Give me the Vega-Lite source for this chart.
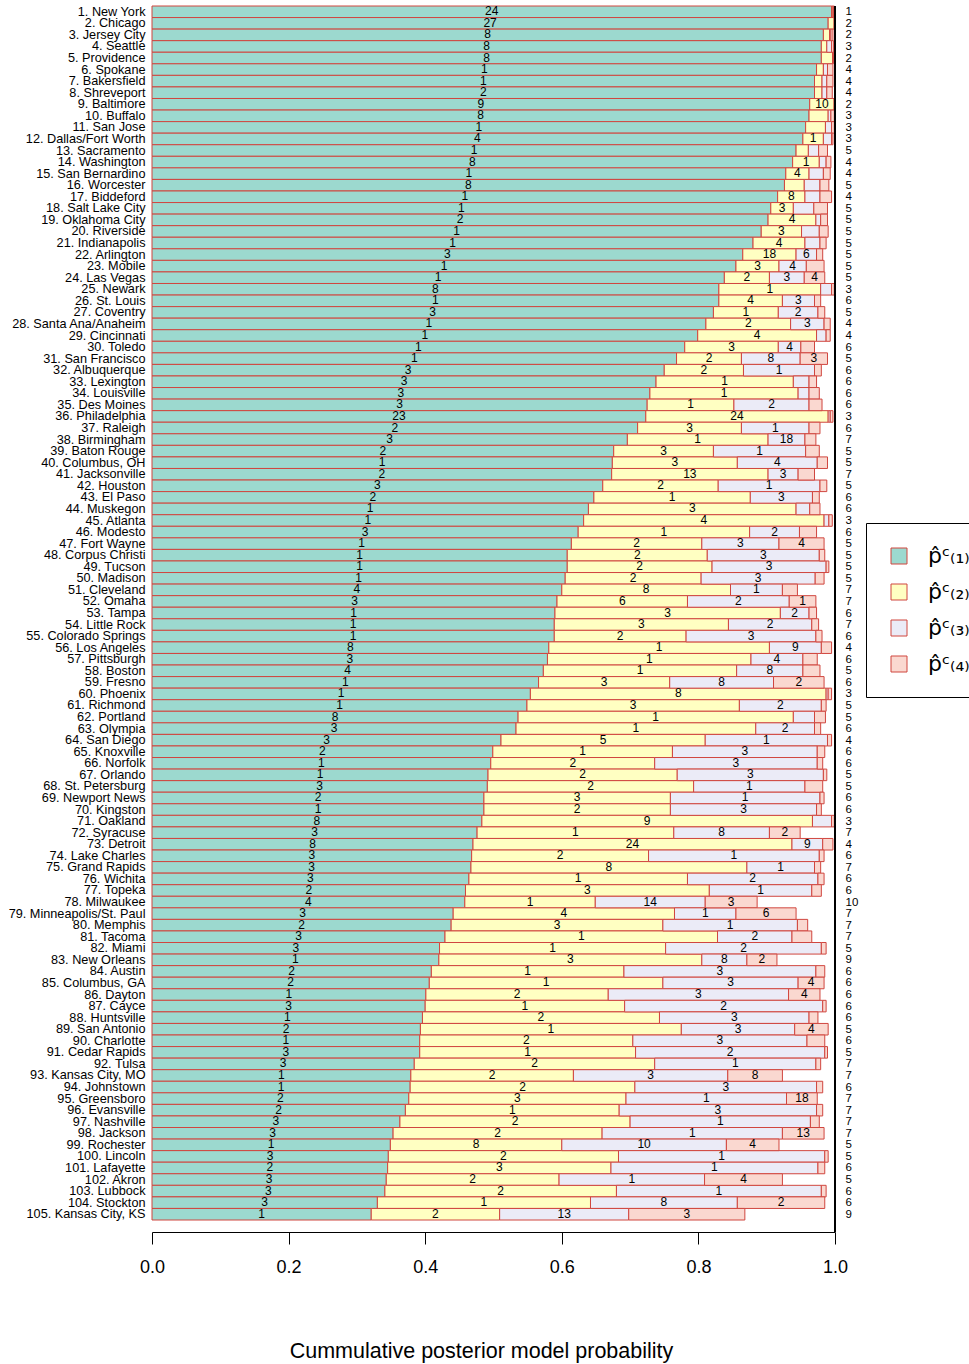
{
  "$schema": "https://vega.github.io/schema/vega-lite/v6.json",
  "width": 683,
  "height": 1226,
  "autosize": {"type": "none"},
  "padding": {"left": 152, "top": 6, "right": 134, "bottom": 132},
  "background": "white",
  "config": {
    "view": {"stroke": null},
    "font": "Liberation Sans",
    "axisX": {
      "grid": false,
      "tickSize": 12,
      "tickColor": "black",
      "domainColor": "black",
      "labelColor": "black",
      "labelFontSize": 18,
      "labelPadding": 14,
      "labelFlush": false,
      "titleColor": "black",
      "titleFontSize": 21.5,
      "titleFontWeight": "normal",
      "titlePadding": 64,
      "titleX": 329
    }
  },
  "data": {
    "values": [
      {"k": "1. New York|1", "a": 0.995, "b": 0.997, "c": 0.998, "d": 0.999, "m1": 24},
      {"k": "2. Chicago|2", "a": 0.990, "b": 0.999, "c": 0.999, "d": 0.999, "m1": 27},
      {"k": "3. Jersey City|2", "a": 0.983, "b": 0.992, "c": 0.994, "d": 0.997, "m1": 8},
      {"k": "4. Seattle|3", "a": 0.980, "b": 0.988, "c": 0.995, "d": 0.998, "m1": 8},
      {"k": "5. Providence|2", "a": 0.980, "b": 0.997, "c": 0.997, "d": 0.997, "m1": 8},
      {"k": "6. Spokane|4", "a": 0.973, "b": 0.983, "c": 0.989, "d": 0.997, "m1": 1},
      {"k": "7. Bakersfield|4", "a": 0.970, "b": 0.981, "c": 0.988, "d": 0.997, "m1": 1},
      {"k": "8. Shreveport|4", "a": 0.970, "b": 0.981, "c": 0.988, "d": 0.996, "m1": 2},
      {"k": "9. Baltimore|2", "a": 0.963, "b": 0.999, "c": 0.999, "d": 0.999, "m1": 9, "m2": 10},
      {"k": "10. Buffalo|3", "a": 0.962, "b": 0.990, "c": 0.994, "d": 0.999, "m1": 8},
      {"k": "11. San Jose|3", "a": 0.957, "b": 0.986, "c": 0.995, "d": 0.999, "m1": 1},
      {"k": "12. Dallas/Fort Worth|3", "a": 0.953, "b": 0.983, "c": 0.995, "d": 0.997, "m1": 4, "m2": 1},
      {"k": "13. Sacramento|5", "a": 0.943, "b": 0.961, "c": 0.976, "d": 0.989, "m1": 1},
      {"k": "14. Washington|4", "a": 0.938, "b": 0.977, "c": 0.987, "d": 0.994, "m1": 8, "m2": 1},
      {"k": "15. San Bernardino|4", "a": 0.928, "b": 0.962, "c": 0.983, "d": 0.993, "m1": 1, "m2": 4},
      {"k": "16. Worcester|5", "a": 0.926, "b": 0.955, "c": 0.978, "d": 0.991, "m1": 8},
      {"k": "17. Biddeford|4", "a": 0.916, "b": 0.956, "c": 0.978, "d": 0.995, "m1": 1, "m2": 8},
      {"k": "18. Salt Lake City|5", "a": 0.906, "b": 0.939, "c": 0.969, "d": 0.989, "m1": 1, "m2": 3},
      {"k": "19. Oklahoma City|5", "a": 0.902, "b": 0.972, "c": 0.979, "d": 0.989, "m1": 2, "m2": 4},
      {"k": "20. Riverside|5", "a": 0.892, "b": 0.951, "c": 0.977, "d": 0.990, "m1": 1, "m2": 3},
      {"k": "21. Indianapolis|5", "a": 0.880, "b": 0.956, "c": 0.978, "d": 0.987, "m1": 1, "m2": 4},
      {"k": "22. Arlington|5", "a": 0.865, "b": 0.943, "c": 0.973, "d": 0.982, "m1": 3, "m2": 18, "m3": 6},
      {"k": "23. Mobile|5", "a": 0.855, "b": 0.918, "c": 0.958, "d": 0.984, "m1": 1, "m2": 3, "m3": 4},
      {"k": "24. Las Vegas|5", "a": 0.838, "b": 0.904, "c": 0.955, "d": 0.985, "m1": 1, "m2": 2, "m3": 3, "m4": 4},
      {"k": "25. Newark|3", "a": 0.830, "b": 0.979, "c": 0.995, "d": 0.999, "m1": 8, "m2": 1},
      {"k": "26. St. Louis|6", "a": 0.830, "b": 0.923, "c": 0.970, "d": 0.979, "m1": 1, "m2": 4, "m3": 3},
      {"k": "27. Coventry|5", "a": 0.822, "b": 0.917, "c": 0.975, "d": 0.985, "m1": 3, "m2": 1, "m3": 2},
      {"k": "28. Santa Ana/Anaheim|4", "a": 0.811, "b": 0.935, "c": 0.984, "d": 0.993, "m1": 1, "m2": 2, "m3": 3},
      {"k": "29. Cincinnati|4", "a": 0.799, "b": 0.973, "c": 0.987, "d": 0.993, "m1": 1, "m2": 4},
      {"k": "30. Toledo|6", "a": 0.780, "b": 0.917, "c": 0.950, "d": 0.970, "m1": 1, "m2": 3, "m3": 4},
      {"k": "31. San Francisco|5", "a": 0.768, "b": 0.863, "c": 0.949, "d": 0.989, "m1": 1, "m2": 2, "m3": 8, "m4": 3},
      {"k": "32. Albuquerque|6", "a": 0.750, "b": 0.866, "c": 0.970, "d": 0.980, "m1": 3, "m2": 2, "m3": 1},
      {"k": "33. Lexington|6", "a": 0.738, "b": 0.939, "c": 0.962, "d": 0.973, "m1": 3, "m2": 1},
      {"k": "34. Louisville|6", "a": 0.729, "b": 0.946, "c": 0.962, "d": 0.977, "m1": 3, "m2": 1},
      {"k": "35. Des Moines|6", "a": 0.725, "b": 0.852, "c": 0.962, "d": 0.981, "m1": 3, "m2": 1, "m3": 2},
      {"k": "36. Philadelphia|3", "a": 0.723, "b": 0.990, "c": 0.993, "d": 0.997, "m1": 23, "m2": 24},
      {"k": "37. Raleigh|6", "a": 0.711, "b": 0.863, "c": 0.962, "d": 0.978, "m1": 2, "m2": 3, "m3": 1},
      {"k": "38. Birmingham|7", "a": 0.696, "b": 0.902, "c": 0.956, "d": 0.972, "m1": 3, "m2": 1, "m3": 18},
      {"k": "39. Baton Rouge|5", "a": 0.676, "b": 0.822, "c": 0.957, "d": 0.977, "m1": 2, "m2": 3, "m3": 1},
      {"k": "40. Columbus, OH|5", "a": 0.674, "b": 0.857, "c": 0.974, "d": 0.989, "m1": 1, "m2": 3, "m3": 4},
      {"k": "41. Jacksonville|7", "a": 0.673, "b": 0.902, "c": 0.946, "d": 0.970, "m1": 2, "m2": 13, "m3": 3},
      {"k": "42. Houston|5", "a": 0.660, "b": 0.829, "c": 0.978, "d": 0.988, "m1": 3, "m2": 2, "m3": 1},
      {"k": "43. El Paso|6", "a": 0.647, "b": 0.876, "c": 0.967, "d": 0.977, "m1": 2, "m2": 1, "m3": 3},
      {"k": "44. Muskegon|6", "a": 0.639, "b": 0.943, "c": 0.963, "d": 0.978, "m1": 1, "m2": 3},
      {"k": "45. Atlanta|3", "a": 0.632, "b": 0.984, "c": 0.991, "d": 0.996, "m1": 1, "m2": 4},
      {"k": "46. Modesto|6", "a": 0.624, "b": 0.875, "c": 0.948, "d": 0.973, "m1": 3, "m2": 1, "m3": 2},
      {"k": "47. Fort Wayne|5", "a": 0.614, "b": 0.805, "c": 0.918, "d": 0.984, "m1": 1, "m2": 2, "m3": 3, "m4": 4},
      {"k": "48. Corpus Christi|5", "a": 0.608, "b": 0.813, "c": 0.977, "d": 0.985, "m1": 1, "m2": 2, "m3": 3},
      {"k": "49. Tucson|5", "a": 0.608, "b": 0.820, "c": 0.987, "d": 0.991, "m1": 1, "m2": 2, "m3": 3},
      {"k": "50. Madison|5", "a": 0.605, "b": 0.804, "c": 0.971, "d": 0.984, "m1": 1, "m2": 2, "m3": 3},
      {"k": "51. Cleveland|7", "a": 0.600, "b": 0.847, "c": 0.923, "d": 0.945, "m1": 4, "m2": 8, "m3": 1},
      {"k": "52. Omaha|7", "a": 0.593, "b": 0.784, "c": 0.933, "d": 0.972, "m1": 3, "m2": 6, "m3": 2, "m4": 1},
      {"k": "53. Tampa|6", "a": 0.590, "b": 0.920, "c": 0.962, "d": 0.973, "m1": 1, "m2": 3, "m3": 2},
      {"k": "54. Little Rock|7", "a": 0.589, "b": 0.844, "c": 0.966, "d": 0.976, "m1": 1, "m2": 3, "m3": 2},
      {"k": "55. Colorado Springs|6", "a": 0.589, "b": 0.782, "c": 0.972, "d": 0.981, "m1": 1, "m2": 2, "m3": 3},
      {"k": "56. Los Angeles|4", "a": 0.581, "b": 0.904, "c": 0.980, "d": 0.995, "m1": 8, "m2": 1, "m3": 9},
      {"k": "57. Pittsburgh|6", "a": 0.579, "b": 0.877, "c": 0.953, "d": 0.974, "m1": 3, "m2": 1, "m3": 4},
      {"k": "58. Boston|5", "a": 0.573, "b": 0.856, "c": 0.953, "d": 0.978, "m1": 4, "m2": 1, "m3": 8},
      {"k": "59. Fresno|6", "a": 0.566, "b": 0.758, "c": 0.910, "d": 0.984, "m1": 1, "m2": 3, "m3": 8, "m4": 2},
      {"k": "60. Phoenix|3", "a": 0.554, "b": 0.987, "c": 0.990, "d": 0.995, "m1": 1, "m2": 8},
      {"k": "61. Richmond|5", "a": 0.549, "b": 0.860, "c": 0.980, "d": 0.987, "m1": 1, "m2": 3, "m3": 2},
      {"k": "62. Portland|5", "a": 0.536, "b": 0.939, "c": 0.970, "d": 0.986, "m1": 8, "m2": 1},
      {"k": "63. Olympia|6", "a": 0.533, "b": 0.884, "c": 0.970, "d": 0.979, "m1": 3, "m2": 1, "m3": 2},
      {"k": "64. San Diego|4", "a": 0.511, "b": 0.810, "c": 0.989, "d": 0.995, "m1": 3, "m2": 5, "m3": 1},
      {"k": "65. Knoxville|6", "a": 0.499, "b": 0.762, "c": 0.974, "d": 0.985, "m1": 2, "m2": 1, "m3": 3},
      {"k": "66. Norfolk|6", "a": 0.496, "b": 0.736, "c": 0.974, "d": 0.982, "m1": 1, "m2": 2, "m3": 3},
      {"k": "67. Orlando|5", "a": 0.492, "b": 0.769, "c": 0.983, "d": 0.988, "m1": 1, "m2": 2, "m3": 3},
      {"k": "68. St. Petersburg|5", "a": 0.491, "b": 0.793, "c": 0.956, "d": 0.982, "m1": 3, "m2": 2, "m3": 1},
      {"k": "69. Newport News|6", "a": 0.486, "b": 0.759, "c": 0.978, "d": 0.984, "m1": 2, "m2": 3, "m3": 1},
      {"k": "70. Kingston|6", "a": 0.486, "b": 0.759, "c": 0.973, "d": 0.980, "m1": 1, "m2": 2, "m3": 3},
      {"k": "71. Oakland|3", "a": 0.483, "b": 0.967, "c": 0.995, "d": 0.999, "m1": 8, "m2": 9},
      {"k": "72. Syracuse|7", "a": 0.476, "b": 0.764, "c": 0.904, "d": 0.949, "m1": 3, "m2": 1, "m3": 8, "m4": 2},
      {"k": "73. Detroit|4", "a": 0.470, "b": 0.937, "c": 0.982, "d": 0.997, "m1": 8, "m2": 24, "m3": 9},
      {"k": "74. Lake Charles|6", "a": 0.468, "b": 0.727, "c": 0.977, "d": 0.984, "m1": 3, "m2": 2, "m3": 1},
      {"k": "75. Grand Rapids|7", "a": 0.467, "b": 0.871, "c": 0.970, "d": 0.979, "m1": 3, "m2": 8, "m3": 1},
      {"k": "76. Wichita|6", "a": 0.464, "b": 0.784, "c": 0.975, "d": 0.984, "m1": 3, "m2": 1, "m3": 2},
      {"k": "77. Topeka|6", "a": 0.459, "b": 0.816, "c": 0.966, "d": 0.980, "m1": 2, "m2": 3, "m3": 1},
      {"k": "78. Milwaukee|10", "a": 0.458, "b": 0.649, "c": 0.810, "d": 0.886, "m1": 4, "m2": 1, "m3": 14, "m4": 3},
      {"k": "79. Minneapolis/St. Paul|7", "a": 0.441, "b": 0.765, "c": 0.855, "d": 0.943, "m1": 3, "m2": 4, "m3": 1, "m4": 6},
      {"k": "80. Memphis|7", "a": 0.438, "b": 0.748, "c": 0.945, "d": 0.960, "m1": 2, "m2": 3, "m3": 1},
      {"k": "81. Tacoma|7", "a": 0.429, "b": 0.828, "c": 0.937, "d": 0.966, "m1": 3, "m2": 1, "m3": 2},
      {"k": "82. Miami|5", "a": 0.421, "b": 0.752, "c": 0.980, "d": 0.987, "m1": 3, "m2": 1, "m3": 2},
      {"k": "83. New Orleans|9", "a": 0.420, "b": 0.805, "c": 0.871, "d": 0.915, "m1": 1, "m2": 3, "m3": 8, "m4": 2},
      {"k": "84. Austin|6", "a": 0.409, "b": 0.691, "c": 0.972, "d": 0.985, "m1": 2, "m2": 1, "m3": 3},
      {"k": "85. Columbus, GA|6", "a": 0.406, "b": 0.748, "c": 0.946, "d": 0.984, "m1": 2, "m2": 1, "m3": 3, "m4": 4},
      {"k": "86. Dayton|6", "a": 0.401, "b": 0.668, "c": 0.932, "d": 0.978, "m1": 1, "m2": 2, "m3": 3, "m4": 4},
      {"k": "87. Cayce|6", "a": 0.400, "b": 0.692, "c": 0.982, "d": 0.987, "m1": 3, "m2": 1, "m3": 2},
      {"k": "88. Huntsville|6", "a": 0.396, "b": 0.743, "c": 0.962, "d": 0.975, "m1": 1, "m2": 2, "m3": 3},
      {"k": "89. San Antonio|5", "a": 0.393, "b": 0.775, "c": 0.941, "d": 0.990, "m1": 2, "m2": 1, "m3": 3, "m4": 4},
      {"k": "90. Charlotte|6", "a": 0.392, "b": 0.704, "c": 0.959, "d": 0.985, "m1": 1, "m2": 2, "m3": 3},
      {"k": "91. Cedar Rapids|5", "a": 0.392, "b": 0.708, "c": 0.985, "d": 0.989, "m1": 3, "m2": 1, "m3": 2},
      {"k": "92. Tulsa|7", "a": 0.384, "b": 0.736, "c": 0.972, "d": 0.979, "m1": 3, "m2": 2, "m3": 1},
      {"k": "93. Kansas City, MO|7", "a": 0.379, "b": 0.617, "c": 0.843, "d": 0.923, "m1": 1, "m2": 2, "m3": 3, "m4": 8},
      {"k": "94. Johnstown|6", "a": 0.378, "b": 0.707, "c": 0.973, "d": 0.982, "m1": 1, "m2": 2, "m3": 3},
      {"k": "95. Greensboro|7", "a": 0.376, "b": 0.694, "c": 0.929, "d": 0.974, "m1": 2, "m2": 3, "m3": 1, "m4": 18},
      {"k": "96. Evansville|7", "a": 0.371, "b": 0.684, "c": 0.973, "d": 0.982, "m1": 2, "m2": 1, "m3": 3},
      {"k": "97. Nashville|7", "a": 0.363, "b": 0.700, "c": 0.964, "d": 0.977, "m1": 3, "m2": 2, "m3": 1},
      {"k": "98. Jackson|7", "a": 0.353, "b": 0.659, "c": 0.923, "d": 0.984, "m1": 3, "m2": 2, "m3": 1, "m4": 13},
      {"k": "99. Rochester|5", "a": 0.349, "b": 0.600, "c": 0.841, "d": 0.918, "m1": 1, "m2": 8, "m3": 10, "m4": 4},
      {"k": "100. Lincoln|5", "a": 0.346, "b": 0.683, "c": 0.985, "d": 0.990, "m1": 3, "m2": 2, "m3": 1},
      {"k": "101. Lafayette|6", "a": 0.345, "b": 0.672, "c": 0.975, "d": 0.985, "m1": 2, "m2": 3, "m3": 1},
      {"k": "102. Akron|5", "a": 0.343, "b": 0.596, "c": 0.809, "d": 0.923, "m1": 3, "m2": 2, "m3": 1, "m4": 4},
      {"k": "103. Lubbock|6", "a": 0.341, "b": 0.680, "c": 0.980, "d": 0.987, "m1": 3, "m2": 2, "m3": 1},
      {"k": "104. Stockton|6", "a": 0.330, "b": 0.642, "c": 0.857, "d": 0.985, "m1": 3, "m2": 1, "m3": 8, "m4": 2},
      {"k": "105. Kansas City, KS|9", "a": 0.321, "b": 0.509, "c": 0.698, "d": 0.868, "m1": 1, "m2": 2, "m3": 13, "m4": 3}
    ]
  },
  "layer": [
    {
      "encoding": {
        "y": {
          "field": "k", "type": "nominal", "sort": null,
          "scale": {"range": [0, 1214], "paddingInner": 0, "paddingOuter": 0},
          "axis": {
            "orient": "left", "domain": false, "ticks": false, "labelPadding": 7,
            "labelFontSize": 12.7, "labelColor": "black", "labelLimit": 0,
            "labelOverlap": false, "labelBound": false,
            "labelExpr": "split(datum.value, '|')[0]", "title": null
          }
        }
      },
      "layer": [
        {
          "mark": {"type": "bar", "stroke": "#d0463f", "strokeWidth": 1},
          "encoding": {
            "x": {"field": "a", "type": "quantitative", "scale": {"domain": [0, 1], "nice": false}, "title": "Cummulative posterior model probability", "axis": {"values": [0, 0.2, 0.4, 0.6, 0.8, 1], "format": ".1f"}},
            "x2": {"datum": 0},
            "color": {
              "datum": "p\u0302\u1d9c\u208d\u2081\u208e",
              "scale": {
                "domain": ["p\u0302\u1d9c\u208d\u2081\u208e", "p\u0302\u1d9c\u208d\u2082\u208e", "p\u0302\u1d9c\u208d\u2083\u208e", "p\u0302\u1d9c\u208d\u2084\u208e"],
                "range": ["#9cd9cf", "#ffffc2", "#ebebf7", "#fad8d0"]
              },
              "legend": {
                "orient": "none", "legendX": 714, "legendY": 517, "title": null,
                "symbolType": "square", "symbolSize": 256, "symbolStrokeColor": "black",
                "symbolStrokeWidth": 1, "symbolOpacity": 1,
                "labelFont": "DejaVu Sans", "labelFontSize": 22, "labelColor": "black",
                "labelOffset": 18, "rowPadding": 14, "padding": 22,
                "strokeColor": "black", "fillColor": "white"
              }
            }
          }
        },
        {
          "mark": {"type": "bar", "stroke": "#d0463f", "strokeWidth": 1},
          "encoding": {
            "x": {"field": "a", "type": "quantitative", "scale": {"domain": [0, 1], "nice": false}, "title": "Cummulative posterior model probability", "axis": {"values": [0, 0.2, 0.4, 0.6, 0.8, 1], "format": ".1f"}},
            "x2": {"field": "b"},
            "color": {"datum": "p\u0302\u1d9c\u208d\u2082\u208e"}
          }
        },
        {
          "mark": {"type": "bar", "stroke": "#d0463f", "strokeWidth": 1},
          "encoding": {
            "x": {"field": "b", "type": "quantitative", "scale": {"domain": [0, 1], "nice": false}, "title": "Cummulative posterior model probability", "axis": {"values": [0, 0.2, 0.4, 0.6, 0.8, 1], "format": ".1f"}},
            "x2": {"field": "c"},
            "color": {"datum": "p\u0302\u1d9c\u208d\u2083\u208e"}
          }
        },
        {
          "mark": {"type": "bar", "stroke": "#d0463f", "strokeWidth": 1},
          "encoding": {
            "x": {"field": "c", "type": "quantitative", "scale": {"domain": [0, 1], "nice": false}, "title": "Cummulative posterior model probability", "axis": {"values": [0, 0.2, 0.4, 0.6, 0.8, 1], "format": ".1f"}},
            "x2": {"field": "d"},
            "color": {"datum": "p\u0302\u1d9c\u208d\u2084\u208e"}
          }
        },
        {
          "transform": [{"filter": "isValid(datum.m1)"}, {"calculate": "datum.a / 2", "as": "mid"}],
          "mark": {"type": "text", "fontSize": 12, "baseline": "middle", "dy": -0.5, "color": "black"},
          "encoding": {
            "x": {"field": "mid", "type": "quantitative", "scale": {"domain": [0, 1], "nice": false}, "title": "Cummulative posterior model probability", "axis": {"values": [0, 0.2, 0.4, 0.6, 0.8, 1], "format": ".1f"}},
            "text": {"field": "m1", "type": "nominal"}
          }
        },
        {
          "transform": [{"filter": "isValid(datum.m2)"}, {"calculate": "(datum.a + datum.b) / 2", "as": "mid"}],
          "mark": {"type": "text", "fontSize": 12, "baseline": "middle", "dy": -0.5, "color": "black"},
          "encoding": {
            "x": {"field": "mid", "type": "quantitative", "scale": {"domain": [0, 1], "nice": false}, "title": "Cummulative posterior model probability", "axis": {"values": [0, 0.2, 0.4, 0.6, 0.8, 1], "format": ".1f"}},
            "text": {"field": "m2", "type": "nominal"}
          }
        },
        {
          "transform": [{"filter": "isValid(datum.m3)"}, {"calculate": "(datum.b + datum.c) / 2", "as": "mid"}],
          "mark": {"type": "text", "fontSize": 12, "baseline": "middle", "dy": -0.5, "color": "black"},
          "encoding": {
            "x": {"field": "mid", "type": "quantitative", "scale": {"domain": [0, 1], "nice": false}, "title": "Cummulative posterior model probability", "axis": {"values": [0, 0.2, 0.4, 0.6, 0.8, 1], "format": ".1f"}},
            "text": {"field": "m3", "type": "nominal"}
          }
        },
        {
          "transform": [{"filter": "isValid(datum.m4)"}, {"calculate": "(datum.c + datum.d) / 2", "as": "mid"}],
          "mark": {"type": "text", "fontSize": 12, "baseline": "middle", "dy": -0.5, "color": "black"},
          "encoding": {
            "x": {"field": "mid", "type": "quantitative", "scale": {"domain": [0, 1], "nice": false}, "title": "Cummulative posterior model probability", "axis": {"values": [0, 0.2, 0.4, 0.6, 0.8, 1], "format": ".1f"}},
            "text": {"field": "m4", "type": "nominal"}
          }
        }
      ]
    },
    {
      "mark": {"type": "rule", "color": "black", "strokeWidth": 1},
      "encoding": {
        "x": {"datum": 1, "type": "quantitative", "scale": {"domain": [0, 1], "nice": false}, "title": "Cummulative posterior model probability", "axis": {"values": [0, 0.2, 0.4, 0.6, 0.8, 1], "format": ".1f"}}
      }
    },
    {
      "mark": {"type": "point", "opacity": 0},
      "encoding": {
        "x": {"datum": 1, "type": "quantitative", "scale": {"domain": [0, 1], "nice": false}, "title": "Cummulative posterior model probability", "axis": {"values": [0, 0.2, 0.4, 0.6, 0.8, 1], "format": ".1f"}},
        "y": {
          "field": "k", "type": "nominal", "sort": null,
          "scale": {"range": [0, 1214], "paddingInner": 0, "paddingOuter": 0},
          "axis": {
            "orient": "right", "domain": false, "ticks": false, "labelPadding": 10,
            "labelFontSize": 11.5, "labelColor": "black", "labelOverlap": false, "labelBound": false,
            "labelExpr": "split(datum.value, '|')[1]", "title": null
          }
        }
      }
    }
  ],
  "resolve": {"scale": {"y": "independent"}}
}
